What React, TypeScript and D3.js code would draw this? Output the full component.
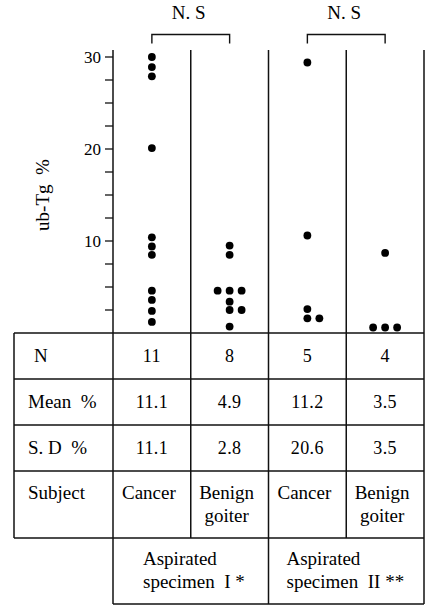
import * as d3 from 'd3';

// groups shown as columns
const groups = ['Cancer I', 'Benign I', 'Cancer II', 'Benign II'];

// ub-Tg % of every specimen
const cancerI = [30, 28.9, 27.9, 20.1, 10.4, 9.4, 8.5, 4.6, 3.6, 2.4, 1.2];
const benignI = [9.5, 8.5, 4.6, 4.6, 4.6, 3.4, 2.5, 2.5, 0.7];
const cancerII = [29.4, 10.6, 2.6, 1.6, 1.6];
const benignII = [8.7, 0.6, 0.6, 0.6];
const dotValues = [cancerI, benignI, cancerII, benignII];

// table rows
const nValues = ['11', '8', '5', '4'];
const meanValues = ['11.1', '4.9', '11.2', '3.5'];
const sdValues = ['11.1', '2.8', '20.6', '3.5'];
const subjects = [['Cancer'], ['Benign', 'goiter'], ['Cancer'], ['Benign', 'goiter']];
const specimens = [['Aspirated', 'specimen  I *'], ['Aspirated', 'specimen  II **']];
const rowLabels = ['N', 'Mean  %', 'S. D  %', 'Subject'];
const significance = ['N. S', 'N. S'];
const majorTicks = [10, 20, 30];

const W = 430;
const H = 606;
const font = "'Liberation Serif', 'Times New Roman', serif";

export default function App() {
  const left = 113;
  const right = 424;
  const tableLeft = 14;
  const plotTop = 50;
  const zeroY = 333;

  const x = d3.scaleBand<string>().domain(groups).range([left, right]).padding(0);
  const y = d3.scaleLinear().domain([0, 30]).range([zeroY, 57]);
  const bw = x.bandwidth();
  const cx = (g: string) => (x(g) as number) + bw / 2;

  const minorTicks = d3.range(2.5, 30.01, 2.5);

  // table row edges
  const rowH = [46, 46, 46, 67];
  const rowEdges = [zeroY];
  rowH.forEach(h => rowEdges.push(rowEdges[rowEdges.length - 1] + h));
  const tableBottom = rowEdges[rowEdges.length - 1];
  const specBottom = tableBottom + 66;

  // dodge equal values sideways: 0, +1, -1, +2 ...
  const order = [0, 1, -1, 2, -2];
  const dots: { x: number; y: number; key: string }[] = [];
  dotValues.forEach((vals, gi) => {
    const seen: Record<string, number> = {};
    vals.forEach((v, i) => {
      const k = String(v);
      const n = seen[k] || 0;
      seen[k] = n + 1;
      dots.push({ x: cx(groups[gi]) + order[n] * 12, y: y(v), key: gi + '-' + i });
    });
  });

  const numRows = [nValues, meanValues, sdValues];
  const pre = { whiteSpace: 'pre' as const };

  return (
    <svg width={W} height={H} style={{ position: 'absolute', left: 0, top: 0, background: '#fff', fontFamily: font, fontSize: 19 }}>
      {/* significance brackets */}
      {significance.map((s, i) => {
        const a = cx(groups[i * 2]);
        const b = cx(groups[i * 2 + 1]);
        return (
          <g key={'ns' + i}>
            <path d={`M${a},43.5V34.5H${b}V43.5`} fill="none" stroke="#111" strokeWidth={1.4} />
            <text x={(a + b) / 2 - 2} y={19} textAnchor="middle" style={pre}>{s}</text>
          </g>
        );
      })}

      {/* y axis */}
      <line x1={left} x2={left} y1={plotTop} y2={specBottom} stroke="#111" strokeWidth={1.5} />
      {minorTicks.map(t => (
        <line key={'t' + t} x1={left - 8} x2={left} y1={y(t)} y2={y(t)} stroke="#111" strokeWidth={1.3} />
      ))}
      {majorTicks.map(t => (
        <text key={'l' + t} x={left - 12} y={y(t) + 6} textAnchor="end" fontSize={17}>{t}</text>
      ))}
      <text transform={`translate(49,195) rotate(-90)`} textAnchor="middle" style={pre}>ub-Tg  %</text>

      {/* column dividers */}
      {groups.map((g, i) => {
        const xr = (x(g) as number) + bw;
        const bottom = i % 2 === 1 ? specBottom : tableBottom;
        return <line key={'v' + g} x1={xr} x2={xr} y1={plotTop} y2={bottom} stroke="#111" strokeWidth={1.5} />;
      })}

      {/* table frame */}
      {rowEdges.map(ry => (
        <line key={'h' + ry} x1={tableLeft} x2={right} y1={ry} y2={ry} stroke="#111" strokeWidth={1.5} />
      ))}
      <line x1={tableLeft} x2={tableLeft} y1={zeroY} y2={tableBottom} stroke="#111" strokeWidth={1.5} />
      <line x1={left} x2={right} y1={specBottom} y2={specBottom} stroke="#111" strokeWidth={1.5} />

      {/* dots */}
      {dots.map(d => (
        <circle key={d.key} cx={d.x} cy={d.y} r={3.9} fill="#000" />
      ))}

      {/* row labels */}
      {rowLabels.map((l, i) => (
        <text key={'rl' + i} x={i === 0 ? 34 : 28} style={pre}
          y={i < 3 ? (rowEdges[i] + rowEdges[i + 1]) / 2 + 6 : rowEdges[i] + 28}>{l}</text>
      ))}

      {/* numeric rows */}
      {numRows.map((row, ri) => row.map((v, gi) => (
        <text key={'n' + ri + gi} x={cx(groups[gi])} y={(rowEdges[ri] + rowEdges[ri + 1]) / 2 + 6}
          textAnchor="middle" fontSize={18} letterSpacing={0.4}>{v}</text>
      )))}

      {/* subject row */}
      {subjects.map((lines, gi) => (
        <text key={'s' + gi} textAnchor="middle">
          {lines.map((ln, li) => (
            <tspan key={li} x={cx(groups[gi]) - 3} y={rowEdges[3] + 28 + li * 23}>{ln}</tspan>
          ))}
        </text>
      ))}

      {/* specimen row */}
      {specimens.map((lines, si) => (
        <text key={'sp' + si} style={pre}>
          {lines.map((ln, li) => (
            <tspan key={li} x={(x(groups[si * 2]) as number) + (si === 0 ? 30 : 18)} y={tableBottom + 27 + li * 23}>{ln}</tspan>
          ))}
        </text>
      ))}
    </svg>
  );
}
